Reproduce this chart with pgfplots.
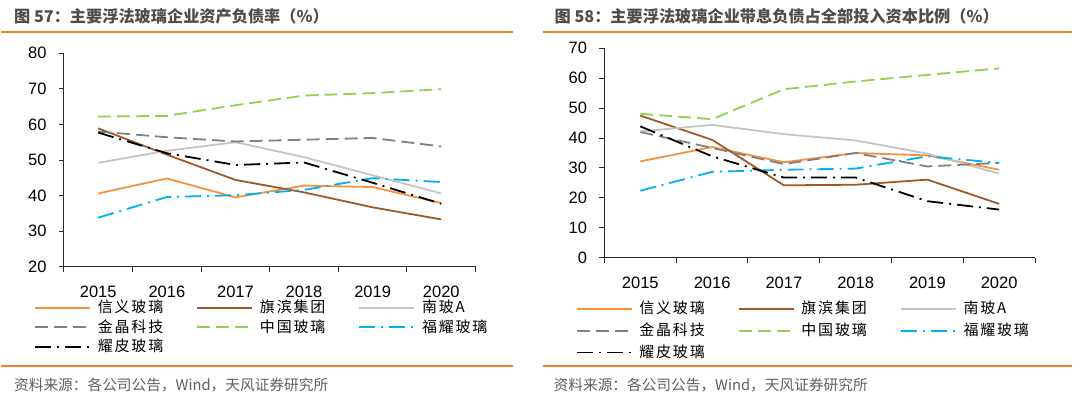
\documentclass[border=0pt]{standalone}
\usepackage{fontspec}
\usepackage{pgfplots}
\usepackage{pgfplotstable}
\pgfplotsset{compat=1.18}
\setmainfont{Liberation Sans}
\newfontfamily\cjk{Noto Sans CJK SC}
\newfontfamily\cjkleg[LetterSpace=12]{Noto Sans CJK SC}
\definecolor{cOrange}{RGB}{247,145,60}
\definecolor{cBrown}{RGB}{160,88,36}
\definecolor{cLGray}{RGB}{196,196,196}
\definecolor{cGray}{RGB}{128,128,128}
\definecolor{cGreen}{RGB}{146,208,80}
\definecolor{cCyan}{RGB}{0,176,240}
\definecolor{ruleCol}{RGB}{243,133,40}
\definecolor{titleCol}{RGB}{77,77,77}
\definecolor{srcCol}{RGB}{95,95,95}

% left chart: asset-liability ratio (%)
\pgfplotstableread{
yr xy qb nb jj zg fy yp
0 40.6 58.9 49.2 58.0 62.2 33.8 57.7
1 44.8 51.5 52.6 56.4 62.4 39.6 51.9
2 39.5 44.4 55.0 55.2 65.4 40.1 48.6
3 42.8 40.9 50.8 55.7 68.1 41.6 49.3
4 42.4 36.7 45.7 56.2 68.8 44.9 43.6
5 37.9 33.3 40.6 53.8 69.9 43.8 37.7
}\tabA
% right chart: interest-bearing debt / invested capital (%)
\pgfplotstableread{
yr xy qb nb jj zg fy yp
0 32.2 47.5 42.2 42.0 48.1 22.4 43.9
1 37.0 39.4 44.4 36.7 46.3 28.7 33.9
2 31.9 24.2 41.3 31.3 56.3 29.4 26.8
3 35.0 24.4 39.2 35.0 58.9 29.8 26.8
4 34.2 26.1 34.8 30.5 61.1 33.9 18.9
5 29.4 18.0 28.1 31.7 63.3 31.7 16.1
}\tabB

\pgfplotsset{
  myax/.style={
    scale only axis,
    axis lines*=left,
    axis line style={black!85, line width=1.1pt, -},
    xmin=-0.5, xmax=5.5,
    xtick={0,...,5}, xticklabels={2015,2016,2017,2018,2019,2020},
    minor xtick={-0.5,0.5,...,5.5},
    major x tick style={draw=none},
    tick align=outside,
    major tick length=5pt, minor tick length=5pt,
    tick style={black!85, line width=1pt},
    tick label style={font=\fontsize{16.5}{18}\selectfont},
    yticklabel style={xshift=-9pt},
    xticklabel style={yshift=-11pt},
    /pgf/number format/assume math mode=true,
    legend columns=3,
    legend cell align=left,
    legend image code/.code={\draw[##1] (0pt,0pt) -- (55pt,0pt);},
    legend style={draw=none, fill=none, inner sep=0pt, anchor=north west,
      font=\fontsize{15}{17}\cjkleg,
      nodes={inner sep=0pt, text height=12pt, text depth=2pt},
      /tikz/every even column/.append style={column sep=33pt},
      /tikz/every odd column/.append style={column sep=7pt}},
  },
  sxy/.style={cOrange, line width=1.8pt, solid},
  sqb/.style={cBrown, line width=1.8pt, solid},
  snb/.style={cLGray, line width=1.8pt, solid},
  sjj/.style={cGray, line width=1.8pt, dash pattern=on 13pt off 6pt},
  szg/.style={cGreen, line width=1.8pt, dash pattern=on 13pt off 6pt},
  sfy/.style={cCyan, line width=1.8pt, dash pattern=on 16pt off 6pt on 2pt off 6pt},
  syp/.style={black, line width=1.8pt, dash pattern=on 16pt off 6pt on 2pt off 6pt},
}

\begin{document}
\begin{tikzpicture}[x=1pt,y=1pt]
\path (0,0) rectangle (1080,401);
% titles and rules
\node[anchor=west, inner sep=0pt, text=titleCol, font=\fontsize{16.2}{18}\cjk\bfseries] at (13,384.5) {图 57：主要浮法玻璃企业资产负债率（\%）};
\node[anchor=west, inner sep=0pt, text=titleCol, font=\fontsize{16.2}{18}\cjk\bfseries] at (554,384.5) {图 58：主要浮法玻璃企业带息负债占全部投入资本比例（\%）};
\draw[ruleCol, line width=2pt] (0,368.5) -- (512,368.5);
\draw[ruleCol, line width=2pt] (542,368.5) -- (1072,368.5);
\draw[ruleCol, line width=2pt] (0,35) -- (512,35);
\draw[ruleCol, line width=2pt] (542,35) -- (1072,35);
\node[anchor=west, inner sep=0pt, text=srcCol, font=\fontsize{14.7}{17}\cjk] at (13,16) {资料来源：各公司公告，Wind，天风证券研究所};
\node[anchor=west, inner sep=0pt, text=srcCol, font=\fontsize{14.7}{17}\cjk] at (553,16) {资料来源：各公司公告，Wind，天风证券研究所};

\begin{axis}[myax, at={(63pt,134pt)}, anchor=south west,
  width=412pt, height=213.7pt,
  ymin=20, ymax=80, ytick={20,30,...,80},
  legend style={at={(axis description cs:-0.0728,-0.159)}, row sep=5.5pt}]
\addplot[sxy] table[x=yr,y=xy] {\tabA}; \addlegendentry{信义玻璃}
\addplot[sqb] table[x=yr,y=qb] {\tabA}; \addlegendentry{旗滨集团}
\addplot[snb] table[x=yr,y=nb] {\tabA}; \addlegendentry{南玻A}
\addplot[sjj] table[x=yr,y=jj] {\tabA}; \addlegendentry{金晶科技}
\addplot[szg] table[x=yr,y=zg] {\tabA}; \addlegendentry{中国玻璃}
\addplot[sfy] table[x=yr,y=fy] {\tabA}; \addlegendentry{福耀玻璃}
\addplot[syp] table[x=yr,y=yp] {\tabA}; \addlegendentry{耀皮玻璃}
\end{axis}

\begin{axis}[myax, at={(604pt,143pt)}, anchor=south west,
  width=431pt, height=209.7pt,
  ymin=0, ymax=70, ytick={0,10,...,70},
  legend style={at={(axis description cs:-0.0673,-0.2098)}, row sep=7.8pt}]
\addplot[sxy] table[x=yr,y=xy] {\tabB}; \addlegendentry{信义玻璃}
\addplot[sqb] table[x=yr,y=qb] {\tabB}; \addlegendentry{旗滨集团}
\addplot[snb] table[x=yr,y=nb] {\tabB}; \addlegendentry{南玻A}
\addplot[sjj] table[x=yr,y=jj] {\tabB}; \addlegendentry{金晶科技}
\addplot[szg] table[x=yr,y=zg] {\tabB}; \addlegendentry{中国玻璃}
\addplot[sfy] table[x=yr,y=fy] {\tabB}; \addlegendentry{福耀玻璃}
\addplot[syp] table[x=yr,y=yp] {\tabB}; \addlegendentry{耀皮玻璃}
\end{axis}
\end{tikzpicture}
\end{document}
